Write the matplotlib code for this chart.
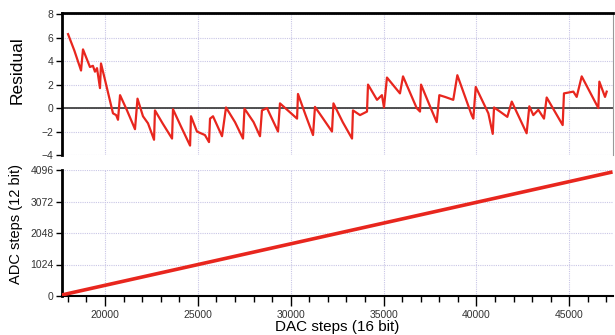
import matplotlib
matplotlib.use("Agg")
import matplotlib.pyplot as plt
from matplotlib.ticker import MultipleLocator

plt.rcParams['font.family'] = ['Liberation Sans', 'DejaVu Sans']

# Residual (DAC step, residual)
res_dac = [18010, 18350, 18710, 18815, 19190, 19350, 19460, 19570, 19730, 19785,
           20000, 20430, 20600, 20700, 20810, 21185, 21615, 21750, 22045, 22315,
           22640, 22690, 23100, 23610, 23660, 24100, 24580, 24630, 24950, 25380,
           25600, 25655, 25815, 26300, 26515, 27000, 27430, 27510, 28000, 28345,
           28450, 28720, 29315, 29420, 30340, 30390, 30800, 31200, 31305, 31700,
           32220, 32300, 32800, 33300, 33350, 33730, 34105, 34160, 34645, 34910,
           35020, 35180, 35880, 36045, 36780, 36960, 37015, 37590, 37860, 38000,
           38305, 38750, 38970, 39740, 39830, 39960, 40640, 40875, 40945, 41265,
           41660, 41900, 42700, 42845, 43060, 43330, 43635, 43780, 44640, 44710,
           45215, 45395, 45665, 46560, 46615, 46920, 47010]
res_val = [6.3, 4.9, 3.2, 5.0, 3.5, 3.6, 3.1, 3.4, 1.7, 3.8,
           2.4, -0.45, -0.6, -1.0, 1.1, -0.2, -1.8, 0.8, -0.7, -1.3,
           -2.7, -0.2, -1.3, -2.6, -0.1, -1.6, -3.2, -0.7, -2.0, -2.3,
           -2.9, -0.9, -0.7, -2.4, 0.05, -1.2, -2.6, -0.05, -1.2, -2.4,
           -0.2, 0.0, -2.0, 0.4, -0.9, 1.2, -0.6, -2.3, 0.1, -0.8,
           -2.0, 0.4, -1.2, -2.6, -0.2, -0.6, -0.3, 2.0, 0.7, 1.1,
           0.05, 2.6, 1.25, 2.7, 0.0, -0.3, 2.0, -0.2, -1.2, 1.1,
           0.95, 0.7, 2.8, -0.6, -0.9, 1.8, -0.45, -2.2, 0.05, -0.3,
           -0.75, 0.55, -2.15, 0.15, -0.6, -0.15, -0.9, 0.9, -1.45, 1.25,
           1.4, 0.95, 2.7, 0.0, 2.25, 0.95, 1.4]

# ADC transfer line
adc_dac = [17760, 47230]
adc_val = [45, 4020]

res_ticks = [-4, -2, 0, 2, 4, 6, 8]
adc_ticks = [0, 1024, 2048, 3072, 4096]
x_ticks = [20000, 25000, 30000, 35000, 40000, 45000]

red = '#e8261e'
grid_c = '#c9c6e6'
xlim = (17685, 47350)

fig = plt.figure(figsize=(6.15, 3.35), dpi=100)
ax1 = fig.add_axes([62/615, 1-155/335, 551/615, 142/335])
ax2 = fig.add_axes([62/615, 1-296/335, 551/615, 126/335])

# --- residual panel
ax1.plot(res_dac, res_val, color=red, lw=1.6, zorder=3)
ax1.axhline(0, color='#333333', lw=1.2, zorder=2)
ax1.set_xlim(*xlim)
ax1.set_ylim(-4, 8.1)
ax1.set_yticks(res_ticks)
ax1.set_xticks(x_ticks)
ax1.tick_params(axis='x', bottom=False, labelbottom=False)
ax1.set_ylabel('Residual', fontsize=12.5)
ax1.yaxis.set_label_coords(-0.067, 0.6)

# --- ADC panel
ax2.plot(adc_dac, adc_val, color=red, lw=2.6, zorder=3)
ax2.set_xlim(*xlim)
ax2.set_ylim(0, 4096)
ax2.set_yticks(adc_ticks)
ax2.set_xticks(x_ticks)
ax2.xaxis.set_minor_locator(MultipleLocator(1000))
ax2.set_xlabel('DAC steps (16 bit)', fontsize=11, va='bottom')
ax2.xaxis.set_label_coords(0.5, -0.305)
ax2.set_ylabel('ADC steps (12 bit)', fontsize=10.5)
ax2.yaxis.set_label_coords(-0.071, 0.57)

for ax in (ax1, ax2):
    ax.grid(True, color=grid_c, ls=(0, (1, 1)), lw=0.8, zorder=0)
    ax.tick_params(axis='y', direction='out', length=4, width=1, labelsize=7.5,
                   labelcolor='#333333', pad=2)
    ax.tick_params(axis='x', which='major', direction='out', length=7, width=1,
                   labelsize=7.5, labelcolor='#333333', pad=3)
    ax.tick_params(axis='x', which='minor', direction='out', length=4, width=1)
    ax.spines['left'].set_linewidth(2)
    ax.spines['left'].set_color('black')

ax1.spines['top'].set_linewidth(2)
ax1.spines['top'].set_color('black')
ax1.spines['right'].set_color('#999999')
ax1.spines['right'].set_linewidth(0.8)
ax1.spines['bottom'].set_visible(False)

ax2.spines['top'].set_visible(False)
ax2.spines['right'].set_visible(False)
ax2.spines['bottom'].set_linewidth(1.5)

fig.savefig('out.png', dpi=100)
